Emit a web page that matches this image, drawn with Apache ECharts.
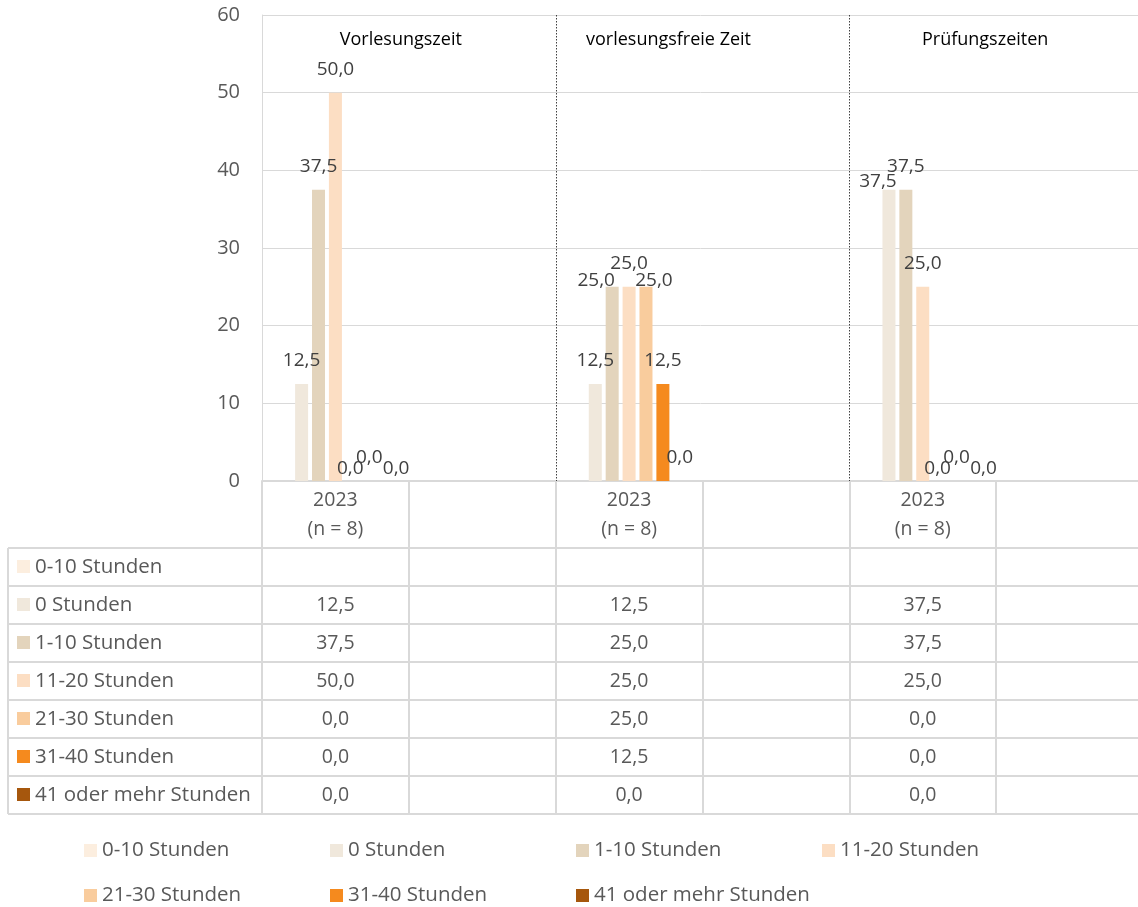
<!DOCTYPE html>
<html>
<head>
<meta charset="utf-8">
<script src="https://cdn.jsdelivr.net/npm/echarts@6/dist/echarts.min.js"></script>
<style>html,body{margin:0;padding:0;background:#fff;}#c{width:1138px;height:907px;}</style>
</head>
<body>
<div id="c"></div>
<script>
// ---- data ----
const periods = ["Vorlesungszeit", "vorlesungsfreie Zeit", "Prüfungszeiten"];
const periodLabel = "2023\n(n = 8)";
const seriesNames = ["0-10 Stunden", "0 Stunden", "1-10 Stunden", "11-20 Stunden", "21-30 Stunden", "31-40 Stunden", "41 oder mehr Stunden"];
const v_0_10  = [null, null, null];
const v_0     = [12.5, 12.5, 37.5];
const v_1_10  = [37.5, 25.0, 37.5];
const v_11_20 = [50.0, 25.0, 25.0];
const v_21_30 = [0.0, 25.0, 0.0];
const v_31_40 = [0.0, 12.5, 0.0];
const v_41    = [0.0, 0.0, 0.0];
const yTicks = [0, 10, 20, 30, 40, 50, 60];

const seriesValues = [v_0_10, v_0, v_1_10, v_11_20, v_21_30, v_31_40, v_41];
const colors = ["#FCEEDF", "#F0E8DC", "#E3D4BC", "#FCDEC3", "#F9CC9D", "#F58A1E", "#A6570D"];

// six table columns: each period has a data column and an empty column
const columns = [];
periods.forEach(() => { columns.push(periodLabel); columns.push(""); });
function expand(arr) { const out = []; arr.forEach(v => { out.push(v); out.push(null); }); return out; }
const fmt = v => (v === null || v === undefined) ? "" : v.toFixed(1).replace(".", ",");

// Label collision handling similar to Excel: runs of neighbouring labels at similar height
function labelShift(si, ci) {
  const p = ci / 2;
  if (ci % 2 !== 0) return { dx: 0, dy: 0 };
  const idx = [];
  seriesValues.forEach((arr, i) => { if (arr[p] !== null) idx.push(i); });
  const runs = []; let cur = [];
  idx.forEach((i, k) => {
    if (k > 0 && Math.abs(seriesValues[i][p] - seriesValues[idx[k - 1]][p]) < 2.5) cur.push(i);
    else { if (cur.length) runs.push(cur); cur = [i]; }
  });
  if (cur.length) runs.push(cur);
  for (const r of runs) {
    const pos = r.indexOf(si);
    if (pos < 0 || r.length < 2) continue;
    const big = seriesValues[si][p] > 0;
    if (r.length === 2) { if (pos === 0) return { dx: -11, dy: 15 }; return { dx: 0, dy: 0 }; }
    if (pos === 0) return big ? { dx: -16, dy: 17 } : { dx: -2, dy: 11 };
    if (pos === r.length - 1) return big ? { dx: 8, dy: 17 } : { dx: 10, dy: 11 };
  }
  return { dx: 0, dy: 0 };
}

const FONT = "Open Sans";
const GRAY = "#595959";
const LINE = "#D9D9D9";

const chart = echarts.init(document.getElementById("c"), null, { renderer: "canvas" });

const series = seriesNames.map((name, i) => ({
  name: name,
  type: "bar",
  data: expand(seriesValues[i]),
  barWidth: 13,
  barGap: "30%",
  itemStyle: { color: colors[i] },
  label: {
    show: true, position: "top", distance: 14,
    fontFamily: FONT, fontSize: 19, color: "#404040",
    formatter: p => fmt(p.value)
  },
  labelLayout: params => labelShift(params.seriesIndex, params.dataIndex),
  emphasis: { disabled: true },
  animation: false
}));

chart.setOption({
  animation: false,
  textStyle: { fontFamily: FONT },
  grid: { left: 262, width: 881, top: 15, bottom: 426, containLabel: false, outerBoundsMode: "none" },
  xAxis: {
    type: "category", data: columns, boundaryGap: true,
    axisLine: { show: true, lineStyle: { color: LINE, width: 2 } },
    axisTick: { show: true, length: 333, lineStyle: { color: LINE, width: 2 } },
    axisLabel: { interval: 0, fontFamily: FONT, fontSize: 19.5, lineHeight: 29, color: GRAY, margin: 5 },
    splitLine: { show: false }
  },
  yAxis: {
    type: "value", min: yTicks[0], max: yTicks[yTicks.length - 1], interval: 10,
    axisLine: { show: true, lineStyle: { color: LINE, width: 1 } },
    axisTick: { show: false },
    axisLabel: { fontFamily: FONT, fontSize: 20, color: GRAY, margin: 22 },
    splitLine: { show: true, lineStyle: { color: LINE, width: 1 } }
  },
  legend: {
    data: seriesNames,
    left: 79, top: 827, width: 990,
    orient: "horizontal",
    icon: "rect", itemWidth: 13, itemHeight: 13, itemGap: 8,
    textStyle: { fontFamily: FONT, fontSize: 20.5, color: GRAY, width: 220, lineHeight: 37 },
    selectedMode: false
  },
  series: series
});

// ---- panel titles, dividers and data table ----
const px = i => chart.convertToPixel({ xAxisIndex: 0 }, i);
const catW = px(1) - px(0);
const yTop = chart.convertToPixel({ yAxisIndex: 0 }, yTicks[yTicks.length - 1]);
const yBase = chart.convertToPixel({ yAxisIndex: 0 }, 0);
const tableTop = 548, rowH = 38, tableLeft = 8, tableRight = 1138;
const g = [];

// panel dividers (dotted)
[2, 4].forEach(ci => {
  const x = Math.round(px(ci) - catW / 2) + 0.5;
  g.push({ type: "line", shape: { x1: x, y1: yTop, x2: x, y2: yBase }, style: { stroke: "#404040", lineWidth: 1, lineDash: [1.5, 1.5] }, z: 5 });
});
// panel titles
const titleOffsets = [-8, -34, -11];
periods.forEach((t, p) => {
  const cx = px(2 * p) + catW / 2 + titleOffsets[p];
  g.push({ type: "text", x: cx, y: 40, style: { text: t, fontFamily: FONT, fontSize: 18, fill: "#000", align: "center", verticalAlign: "middle" }, z: 5 });
});
// table horizontal lines
for (let r = 0; r <= seriesNames.length; r++) {
  const y = tableTop + r * rowH;
  g.push({ type: "line", shape: { x1: tableLeft, y1: y, x2: tableRight, y2: y }, style: { stroke: LINE, lineWidth: 2 }, z: 1 });
}
g.push({ type: "line", shape: { x1: tableLeft, y1: tableTop, x2: tableLeft, y2: tableTop + seriesNames.length * rowH }, style: { stroke: LINE, lineWidth: 2 }, z: 1 });
// table rows
seriesNames.forEach((name, r) => {
  const cy = tableTop + r * rowH + rowH / 2;
  g.push({ type: "rect", shape: { x: 17, y: cy - 7, width: 13, height: 13 }, style: { fill: colors[r] }, z: 5 });
  g.push({ type: "text", x: 35, y: cy, style: { text: name, fontFamily: FONT, fontSize: 20.5, fill: GRAY, align: "left", verticalAlign: "middle" }, z: 5 });
  seriesValues[r].forEach((v, p) => {
    if (v === null) return;
    g.push({ type: "text", x: px(2 * p), y: cy, style: { text: fmt(v), fontFamily: FONT, fontSize: 19.5, fill: GRAY, align: "center", verticalAlign: "middle" }, z: 5 });
  });
});
chart.setOption({ graphic: { elements: g } });
</script>
</body>
</html>
